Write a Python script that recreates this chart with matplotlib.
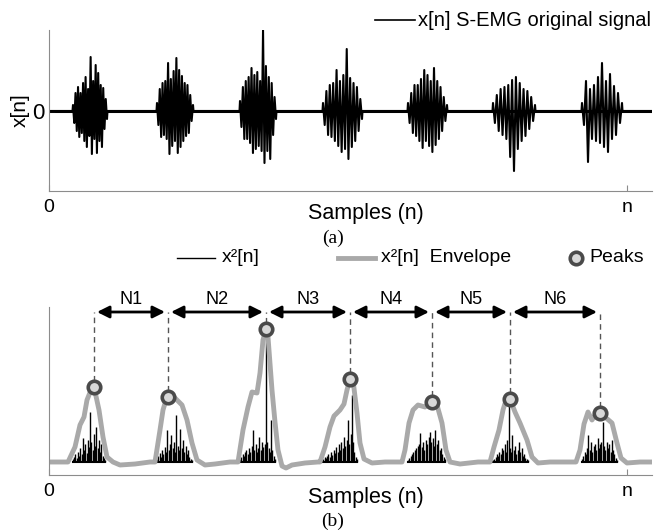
import numpy as np
import matplotlib.pyplot as plt

plt.rcParams['font.family'] = ['Liberation Sans', 'DejaVu Sans']

# ---- data (sample index units, n = 578) ----
n_end = 578
x_max = 603

# (a) raw S-EMG bursts: start, end and signed spike amplitudes
burst_a_start = [24, 108, 191, 274, 359, 444, 533]
burst_a_end = [58, 144, 227, 313, 398, 486, 573]
burst_a_amp = [
    [6, -12, 18, -20, 24, -26, 18, -22, 28, -30, 34, -36, 22, -25, 54, -43, 30, -28, 46, -42, 38, -30, 26, -36, 23, -18, 12, -8],
    [8, -14, 22, -26, 28, -24, 30, -28, 48, -43, 32, -35, 40, -30, 53, -42, 41, -36, 35, -30, 28, -25, 26, -22, 16, -10, 6],
    [10, -16, 24, -28, 30, -28, 34, -32, 43, -42, 36, -38, 39, -35, 30, -40, 81, -52, 45, -40, 34, -48, 28, -24, 14, -8],
    [8, -14, 20, -24, 26, -26, 28, -30, 41, -35, 30, -41, 36, -38, 62, -48, 33, -36, 28, -30, 24, -20, 12, -8],
    [8, -12, 18, -22, 26, -25, 26, -30, 32, -37, 41, -30, 36, -35, 30, -41, 43, -34, 30, -28, 24, -20, 14, -10, 6],
    [8, -12, 16, -20, 22, -24, 24, -28, 26, -46, 31, -60, 34, -38, 28, -30, 22, -25, 20, -18, 14, -10, 6],
    [8, -14, 30, -51, 22, -28, 26, -30, 34, -32, 48, -36, 30, -41, 37, -28, 25, -24, 18, -12, 8],
]

# (b) squared signal bursts
burst_b_start = [24, 108, 191, 273, 359, 444, 533]
burst_b_end = [56, 143, 226, 308, 396, 479, 568]
burst_b_amp = [
    [3, 5, 8, 4, 10, 6, 14, 8, 24, 12, 18, 9, 22, 15, 50, 20, 12, 28, 16, 35, 14, 22, 10, 18, 6, 4, 2],
    [3, 6, 9, 5, 12, 8, 15, 10, 32, 12, 18, 27, 14, 20, 10, 47, 16, 12, 33, 14, 22, 10, 16, 8, 12, 5, 3, 2],
    [3, 5, 8, 6, 10, 12, 8, 14, 10, 16, 32, 12, 18, 10, 14, 25, 12, 20, 15, 18, 133, 20, 14, 10, 42, 12, 6, 3],
    [2, 3, 5, 4, 6, 8, 5, 10, 7, 12, 9, 15, 10, 18, 12, 20, 14, 25, 16, 22, 42, 18, 28, 67, 20, 10, 5, 3],
    [2, 4, 6, 8, 10, 12, 14, 16, 18, 29, 15, 20, 12, 22, 18, 25, 30, 20, 24, 16, 32, 18, 22, 12, 14, 8, 5, 3],
    [2, 3, 5, 8, 6, 10, 8, 14, 12, 18, 10, 22, 57, 14, 10, 27, 12, 16, 8, 12, 20, 10, 14, 6, 8, 4, 3, 2],
    [3, 6, 10, 8, 14, 27, 12, 20, 10, 16, 18, 12, 24, 14, 18, 20, 40, 16, 12, 20, 14, 18, 10, 22, 12, 8, 4, 2],
]

env_x = [0, 19, 26, 31, 35, 38, 42, 45, 50, 54, 58, 64, 71, 86, 101,
         106, 111, 114, 117, 119, 126, 133, 138, 143, 148, 156, 166, 181,
         189, 194, 199, 203, 208, 211, 214, 217, 219, 223, 226, 229, 233, 237, 243, 256, 269,
         271, 276, 281, 285, 291, 295, 298, 301, 304, 308, 311, 315, 323, 336, 351,
         353, 356, 360, 364, 369, 376, 383, 388, 393, 397, 401, 411, 429,
         441, 445, 450, 454, 458, 461, 466, 471, 478, 483, 489, 501,
         527, 531, 535, 539, 543, 547, 551, 556, 563, 568, 572, 578, 591, 603]
env_y = [0, 0, 15, 37, 45, 62, 72, 75, 52, 25, 5, 0, -3, -2, 0,
         0, 32, 52, 62, 65, 64, 57, 42, 19, 2, -3, -2, 0,
         0, 32, 55, 70, 69, 89, 122, 133, 125, 72, 40, 12, -4, -6, -3, -1, 0,
         0, 15, 35, 46, 52, 58, 72, 83, 82, 49, 19, 3, -1, 0, 0,
         0, 12, 39, 52, 57, 55, 60, 57, 39, 12, 0, -2, 0,
         0, 15, 32, 52, 65, 63, 50, 39, 22, 5, -1, 0,
         0, 12, 38, 50, 42, 48, 49, 45, 39, 19, 4, -1, 0, 0]

peak_x = [45, 119, 217, 301, 383, 461, 551]
peak_y = [75, 65, 133, 83, 60, 63, 49]
interval_labels = ['N1', 'N2', 'N3', 'N4', 'N5', 'N6']

# ---- build the raw trace ----
def build_trace(starts, ends, amps):
    xs, ys = [0.0], [0.0]
    for s, e, a in zip(starts, ends, amps):
        xs += [s - 0.5]
        ys += [0.0]
        xs += list(np.linspace(s, e, len(a)))
        ys += a
        xs += [e + 0.5]
        ys += [0.0]
    xs += [x_max]
    ys += [0.0]
    return np.array(xs), np.array(ys)

xa, ya = build_trace(burst_a_start, burst_a_end, burst_a_amp)

fig = plt.figure(figsize=(6.54, 5.32), dpi=100)
W, H = 654, 532
gray = '#8c8c8c'

def fx(p):
    return p / W

def fy(p):
    return 1 - p / H

# (a)
ax1 = fig.add_axes([49 / W, 1 - 191 / H, (652 - 49) / W, (191 - 30) / H])
ax1.plot(xa, ya, color='black', lw=1.5)
ax1.axhline(0, color='black', lw=2.2, zorder=1)
ax1.set_xlim(0, x_max)
ax1.set_ylim(-80, 81)
for sp in ['top', 'right']:
    ax1.spines[sp].set_visible(False)
for sp in ['left', 'bottom']:
    ax1.spines[sp].set_color(gray)
ax1.set_xticks([0, n_end])
ax1.set_xticklabels(['0', 'n'], fontsize=14)
ax1.set_yticks([0])
ax1.set_yticklabels(['0'], fontsize=16)
ax1.tick_params(direction='in', length=4, color=gray, pad=6)
ax1.tick_params(axis='y', pad=3)
ax1.set_ylabel('x[n]', fontsize=15, labelpad=2)

# (b)
ax2 = fig.add_axes([49 / W, 1 - 475 / H, (652 - 49) / W, (475 - 307) / H])
for s, e, a in zip(burst_b_start, burst_b_end, burst_b_amp):
    xs = np.linspace(s, e, len(a))
    ax2.vlines(xs, 0, a, color='black', lw=1.0)
    ax2.plot([s, e], [0, 0], color='black', lw=1.5)
ax2.plot(env_x, env_y, color='#a9a9a9', lw=3.5, solid_joinstyle='round')
ax2.plot(peak_x, peak_y, 'o', ms=9, mfc='#d8d8d8', mec='#4a4a4a', mew=2.6, zorder=5)
ax2.set_xlim(0, x_max)
ax2.set_ylim(-13, 155)
for sp in ['top', 'right']:
    ax2.spines[sp].set_visible(False)
for sp in ['left', 'bottom']:
    ax2.spines[sp].set_color(gray)
ax2.set_xticks([0, n_end])
ax2.set_xticklabels(['0', 'n'], fontsize=14)
ax2.set_yticks([])
ax2.tick_params(direction='in', length=4, color=gray, pad=6)

arrow_y = 150
for px, py in zip(peak_x, peak_y):
    ax2.plot([px, px], [py + 6, arrow_y], color='#555555', lw=1, ls=(0, (4, 3)), clip_on=False)
for i, lab in enumerate(interval_labels):
    x0, x1 = peak_x[i] + 3, peak_x[i + 1] - 3
    ax2.annotate('', xy=(x1, arrow_y), xytext=(x0, arrow_y),
                 arrowprops=dict(arrowstyle='<|-|>', color='black', lw=2,
                                 mutation_scale=18, shrinkA=0, shrinkB=0),
                 annotation_clip=False)
    ax2.text((x0 + x1) / 2, arrow_y + 13, lab, ha='center', va='center', fontsize=13)

# axis titles, captions and legends
fig.text(fx(366), fy(214), 'Samples (n)', fontsize=15.5, ha='center', va='center')
fig.text(fx(366), fy(497), 'Samples (n)', fontsize=15.5, ha='center', va='center')
fig.text(fx(333), fy(238), '(a)', fontsize=14, ha='center', va='center', family='Liberation Serif')
fig.text(fx(333), fy(521), '(b)', fontsize=14, ha='center', va='center', family='Liberation Serif')

fig.add_artist(plt.Line2D([fx(375), fx(415)], [fy(20), fy(20)], color='black', lw=1.2))
fig.text(fx(418), fy(20), 'x[n] S-EMG original signal', fontsize=14.5, va='center')

fig.add_artist(plt.Line2D([fx(177), fx(215)], [fy(258), fy(258)], color='black', lw=1))
fig.text(fx(222), fy(258), 'x²[n]', fontsize=14, va='center')
fig.add_artist(plt.Line2D([fx(338), fx(375)], [fy(258), fy(258)], color='#a9a9a9', lw=3.5))
fig.text(fx(381), fy(258), 'x²[n]  Envelope', fontsize=14, va='center')
fig.add_artist(plt.Line2D([fx(576)], [fy(258)], marker='o', ms=9, mfc='#d8d8d8',
                          mec='#4a4a4a', mew=2.6, ls='none'))
fig.text(fx(589), fy(258), 'Peaks', fontsize=14, va='center')

fig.savefig('out.png', dpi=100)
